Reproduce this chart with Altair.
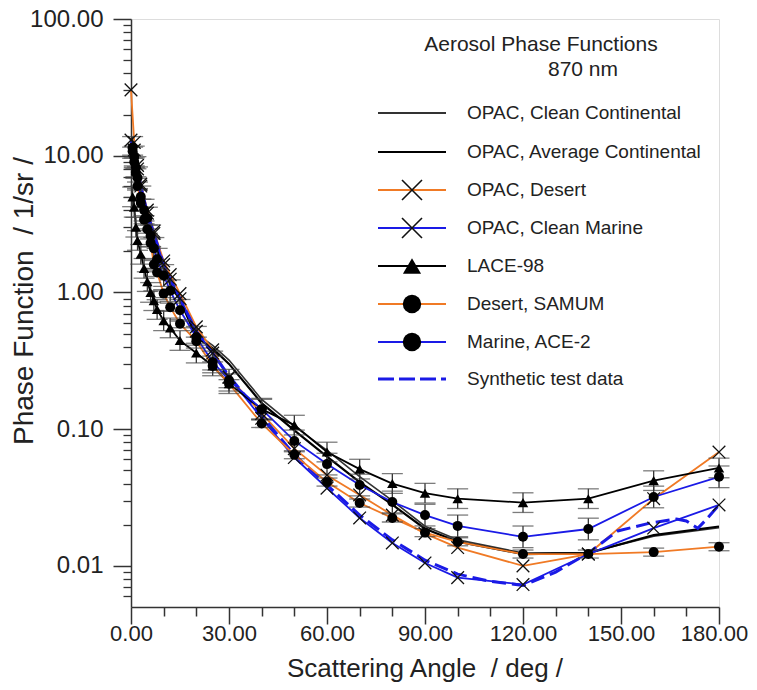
import altair as alt
import pandas as pd

# ---------------- data ----------------
opac_angles = [0, 1, 2, 3, 5, 7, 10, 12, 15, 20, 25, 30, 40, 50, 60, 70, 80, 90, 100, 120, 140, 160, 180]
opac_clean_cont = [11.5, 9.0, 6.5, 5.0, 3.4, 2.5, 1.55, 1.2, 0.92, 0.50, 0.41, 0.32, 0.165, 0.105, 0.070, 0.045,
                   0.030, 0.0195, 0.0155, 0.0124, 0.0125, 0.0165, 0.0190]
opac_avg_cont = [11.0, 8.6, 6.2, 4.8, 3.2, 2.4, 1.5, 1.15, 0.88, 0.47, 0.39, 0.30, 0.155, 0.098, 0.063, 0.041,
                 0.028, 0.0187, 0.0150, 0.0122, 0.0124, 0.0168, 0.0194]
opac_desert = [30.3, 12.5, 8.5, 6.2, 4.0, 2.8, 1.7, 1.35, 0.98, 0.56, 0.38, 0.24, 0.13, 0.072, 0.046, 0.033,
               0.0235, 0.0172, 0.0136, 0.0100, 0.0122, 0.031, 0.068]
opac_clean_marine = [13.0, 11.0, 8.0, 6.0, 3.8, 2.7, 1.6, 1.25, 0.9, 0.52, 0.36, 0.24, 0.12, 0.062, 0.037, 0.0224,
                     0.0147, 0.0105, 0.0082, 0.0073, 0.0122, 0.0189, 0.0279]

meas_angles = [0.5, 1, 1.5, 2, 3, 4, 5, 6, 7, 8, 10, 12, 15, 20, 25, 30, 40, 50, 60, 70, 80, 90, 100, 120, 140, 160, 180]
lace98 = [5.0, 4.2, 3.0, 2.4, 1.9, 1.5, 1.2, 1.0, 0.87, 0.75, 0.62, 0.55, 0.445, 0.36, 0.29, 0.215, 0.14, 0.107,
          0.068, 0.051, 0.040, 0.034, 0.031, 0.029, 0.031, 0.042, 0.052]
samum = [10.8, 9.0, 7.5, 6.0, 4.5, 3.4, 2.9, 2.3, 1.6, 1.4, 0.98, 0.78, 0.59, 0.44, 0.29, 0.215, 0.11, 0.065,
         0.041, 0.0288, 0.0224, 0.0175, 0.0150, 0.0122, 0.0122, 0.0126, 0.0138]
ace2 = [11.5, 9.8, 8.2, 6.9, 5.0, 4.0, 3.5, 2.6, 2.1, 1.75, 1.33, 1.03, 0.74, 0.47, 0.31, 0.228, 0.14, 0.082,
        0.0555, 0.039, 0.0293, 0.0235, 0.0196, 0.0163, 0.0186, 0.0319, 0.0448]
lace_err = 1.18
samum_err = 1.07
ace2_err = 1.20

synth_angles = [0, 1, 2, 3, 5, 7, 10, 12, 15, 20, 25, 30, 40, 50, 60, 70, 80, 90, 100, 110, 120, 130, 140, 149,
                159, 167, 170, 173.5, 176, 180]
synth = [13.0, 11.0, 8.0, 6.0, 3.8, 2.7, 1.6, 1.25, 0.9, 0.52, 0.36, 0.245, 0.125, 0.065, 0.039, 0.0235, 0.0155,
         0.0110, 0.0087, 0.0077, 0.0072, 0.0090, 0.0124, 0.0180, 0.0206, 0.0220, 0.0213, 0.0188, 0.0217, 0.0279]

x_major = [0, 30, 60, 90, 120, 150, 180]
x_minor = [10, 20, 40, 50, 70, 80, 100, 110, 130, 140, 160, 170]
y_major = [0.01, 0.1, 1, 10, 100]
y_minor = [m * d for d in [0.001, 0.01, 0.1, 1, 10] for m in range(2, 10) if m * d > 0.005]

title_lines = ["Aerosol Phase Functions", "870 nm"]
x_title = "Scattering Angle\u00a0 / deg /"
y_title = "Phase Function\u00a0 / 1/sr /"

legend_labels = ["OPAC, Clean Continental", "OPAC, Average Continental", "OPAC, Desert", "OPAC, Clean Marine",
                 "LACE-98", "Desert, SAMUM", "Marine, ACE-2", "Synthetic test data"]
legend_colors = ["#333333", "#000000", "#f07a25", "#1a1ae6", "#000000", "#f07a25", "#1a1ae6", "#1a1ae6"]
legend_markers = [None, None, "x", "x", "triangle", "circle", "circle", None]

ORANGE = "#f07a25"
BLUE = "#1a1ae6"
AXIS = "#333333"
XPATH = "M-1,-1L1,1M-1,1L1,-1"
FONT = "Liberation Sans"

xscale = alt.Scale(domain=[0, 180], nice=False, zero=False)
yscale = alt.Scale(type="log", domain=[0.005, 100], nice=False)


def df(angles, values):
    return pd.DataFrame({"angle": angles, "value": values})


def xy(chart):
    return chart.encode(
        x=alt.X("angle:Q", scale=xscale, axis=None),
        y=alt.Y("value:Q", scale=yscale, axis=None),
    )


layers = []

# major axes carried by the first line layer
major = alt.Chart(df(opac_angles, opac_clean_cont)).mark_line(color="#333333", strokeWidth=1.6).encode(
    x=alt.X("angle:Q", scale=xscale,
            axis=alt.Axis(values=x_major, format=".2f", orient="bottom", tickSize=17, tickWidth=1.5,
                          tickColor=AXIS, domainColor=AXIS, domainWidth=1.5, grid=False,
                          labelFont=FONT, labelFontSize=22, labelColor="#222", labelOverlap=False,
                          labelFlush=False, labelBound=False, labelPadding=-1,
                          labelOffset={"condition": {"test": "datum.value >= 180", "value": -5}, "value": 0},
                          title=None)),
    y=alt.Y("value:Q", scale=yscale,
            axis=alt.Axis(values=y_major, format=".2f", orient="left", tickSize=18, tickWidth=1.5,
                          tickColor=AXIS, domainColor=AXIS, domainWidth=1.5, grid=False,
                          labelFont=FONT, labelFontSize=24, labelColor="#222", labelPadding=10,
                          labelOverlap=False, labelFlush=False, labelBound=False, title=None)),
)
layers.append(major)

minor = alt.Chart(pd.DataFrame({"angle": [90], "value": [1.0]})).mark_point(opacity=0).encode(
    x=alt.X("angle:Q", scale=xscale,
            axis=alt.Axis(values=x_minor, orient="bottom", tickSize=9, tickWidth=1.5, tickColor=AXIS,
                          labels=False, domain=False, grid=False, title=None)),
    y=alt.Y("value:Q", scale=yscale,
            axis=alt.Axis(values=y_minor, orient="left", tickSize=8, tickWidth=1.3, tickColor=AXIS,
                          labels=False, domain=False, grid=False, title=None)),
)
layers.append(minor)

layers.append(xy(alt.Chart(df(opac_angles, opac_avg_cont)).mark_line(color="#000000", strokeWidth=2.2)))
layers.append(xy(alt.Chart(df(opac_angles, opac_desert)).mark_line(color=ORANGE, strokeWidth=1.8)))
layers.append(xy(alt.Chart(df(opac_angles, opac_clean_marine)).mark_line(color=BLUE, strokeWidth=1.8)))
layers.append(xy(alt.Chart(df(synth_angles, synth)).mark_line(color=BLUE, strokeWidth=3, strokeDash=[14, 6])))
layers.append(xy(alt.Chart(df(meas_angles, lace98)).mark_line(color="#000000", strokeWidth=1.8)))
layers.append(xy(alt.Chart(df(meas_angles, samum)).mark_line(color=ORANGE, strokeWidth=1.8)))
layers.append(xy(alt.Chart(df(meas_angles, ace2)).mark_line(color=BLUE, strokeWidth=1.8)))

# error bars
for vals, f in [(lace98, lace_err), (samum, samum_err), (ace2, ace2_err)]:
    e = pd.DataFrame({"angle": meas_angles, "lo": [v / f for v in vals], "hi": [v * f for v in vals]})
    base = alt.Chart(e)
    layers.append(base.mark_rule(color="#333333", strokeWidth=1.3).encode(
        x=alt.X("angle:Q", scale=xscale, axis=None),
        y=alt.Y("lo:Q", scale=yscale, axis=None), y2="hi:Q"))
    for c in ["lo", "hi"]:
        layers.append(base.mark_tick(color="#444444", orient="horizontal", size=21, thickness=1.3).encode(
            x=alt.X("angle:Q", scale=xscale, axis=None),
            y=alt.Y(f"{c}:Q", scale=yscale, axis=None)))

# markers
for vals in [opac_desert, opac_clean_marine]:
    layers.append(xy(alt.Chart(df(opac_angles, vals)).mark_point(
        shape=XPATH, size=160, filled=False, color="#111111", strokeWidth=1.3, opacity=1)))
layers.append(xy(alt.Chart(df(meas_angles, lace98)).mark_point(
    shape="triangle-up", size=110, filled=True, color="#000000", opacity=1)))
for vals in [samum, ace2]:
    layers.append(xy(alt.Chart(df(meas_angles, vals)).mark_point(
        shape="circle", size=100, filled=True, color="#000000", opacity=1)))

one = pd.DataFrame({"a": [0]})

# axis titles (pixel positions relative to plot area)
layers.append(alt.Chart(one).mark_text(text=x_title, font=FONT, fontSize=26, color="#222",
                                       align="center", baseline="alphabetic").encode(
    x=alt.value(294), y=alt.value(658)))
layers.append(alt.Chart(one).mark_text(text=y_title, font=FONT, fontSize=28, color="#222", angle=270,
                                       align="center", baseline="alphabetic").encode(
    x=alt.value(-98), y=alt.value(282)))

# chart title
layers.append(alt.Chart(one).mark_text(text=title_lines[0], font=FONT, fontSize=21, color="#222",
                                       align="center", baseline="middle").encode(
    x=alt.value(410), y=alt.value(26)))
layers.append(alt.Chart(one).mark_text(text=title_lines[1], font=FONT, fontSize=21, color="#222",
                                       align="center", baseline="middle").encode(
    x=alt.value(452), y=alt.value(51)))

# legend
row_y = [94, 133, 171, 209, 247, 285, 323, 360]
for lab, col, mk, ry in zip(legend_labels, legend_colors, legend_markers, row_y):
    dash = [16, 5] if lab.startswith("Synthetic") else [1, 0]
    sw = 3 if lab.startswith("Synthetic") else 2
    layers.append(alt.Chart(one).mark_rule(color=col, strokeWidth=sw, strokeDash=dash).encode(
        x=alt.value(247), x2=alt.value(315), y=alt.value(ry)))
    if mk == "x":
        layers.append(alt.Chart(one).mark_point(shape=XPATH, size=400, filled=False, color="#111111",
                                                strokeWidth=1.6, opacity=1).encode(
            x=alt.value(281), y=alt.value(ry)))
    elif mk == "triangle":
        layers.append(alt.Chart(one).mark_point(shape="triangle-up", size=330, filled=True, color="#000000",
                                                opacity=1).encode(x=alt.value(281), y=alt.value(ry)))
    elif mk == "circle":
        layers.append(alt.Chart(one).mark_point(shape="circle", size=340, filled=True, color="#000000",
                                                opacity=1).encode(x=alt.value(281), y=alt.value(ry)))
    layers.append(alt.Chart(one).mark_text(text=lab, font=FONT, fontSize=19, color="#222", align="left",
                                           baseline="middle").encode(x=alt.value(336), y=alt.value(ry)))

chart = alt.layer(*layers).resolve_axis(x="independent", y="independent").properties(
    width=588, height=588, autosize="none",
    padding={"left": 123, "top": 11, "right": 30, "bottom": 75},
).configure_view(stroke=None).configure(background="white")

chart.save("out.html", embed_options={"renderer": "svg", "actions": False})
